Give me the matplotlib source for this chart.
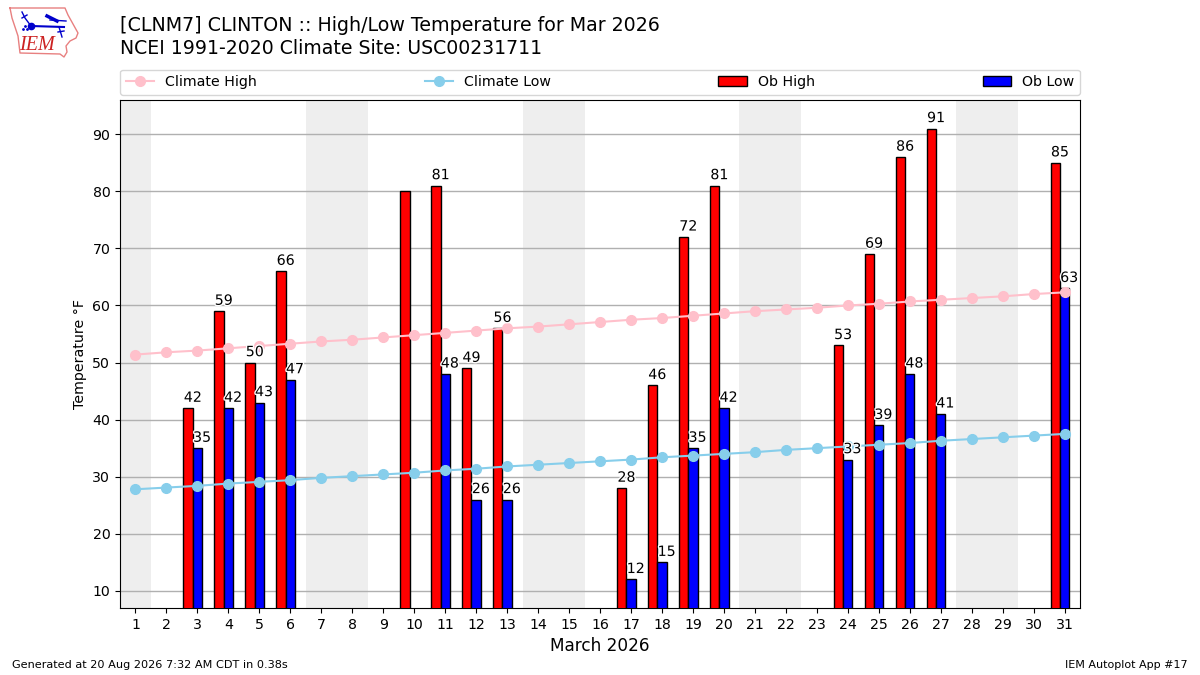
import numpy as np
import matplotlib
matplotlib.use('Agg')
import matplotlib.pyplot as plt
import matplotlib.patheffects as pe

days = list(range(1, 32))
# missing obs are nan
ob_high = [np.nan, np.nan, 42, 59, 50, 66, np.nan, np.nan, np.nan, 80, 81, 49, 56, np.nan, np.nan, np.nan,
           28, 46, 72, 81, np.nan, np.nan, np.nan, 53, 69, 86, 91, np.nan, np.nan, np.nan, 85]
ob_low = [np.nan, np.nan, 35, 42, 43, 47, np.nan, np.nan, np.nan, np.nan, 48, 26, 26, np.nan, np.nan, np.nan,
          12, 15, 35, 42, np.nan, np.nan, np.nan, 33, 39, 48, 41, np.nan, np.nan, np.nan, 63]
clim_high = [51.4, 51.8, 52.1, 52.5, 52.9, 53.3, 53.7, 54.0, 54.4, 54.8, 55.2, 55.6, 56.0, 56.3, 56.7, 57.1,
             57.5, 57.8, 58.2, 58.6, 59.0, 59.3, 59.6, 60.0, 60.3, 60.7, 61.0, 61.3, 61.6, 62.0, 62.3]
clim_low = [27.8, 28.1, 28.4, 28.8, 29.1, 29.4, 29.8, 30.1, 30.4, 30.7, 31.1, 31.4, 31.8, 32.1, 32.4, 32.7,
            33.0, 33.4, 33.7, 34.0, 34.3, 34.7, 35.0, 35.3, 35.6, 35.9, 36.3, 36.6, 36.9, 37.2, 37.5]
weekends = [(0.5, 1.5), (6.5, 8.5), (13.5, 15.5), (20.5, 22.5), (27.5, 29.5)]

W, H = 1200, 675
fig = plt.figure(figsize=(12, 6.75), dpi=100)
ax = fig.add_axes([120 / W, 1 - 608 / H, 960 / W, 508 / H])

for a, b in weekends:
    ax.axvspan(a, b, color='#eeeeee', lw=0, zorder=0)

x = np.array(days)
ax.bar(x - 0.3, ob_high, width=0.3, color='red', edgecolor='black', lw=1, label='Ob High', zorder=3)
ax.bar(x, ob_low, width=0.3, color='blue', edgecolor='black', lw=1, label='Ob Low', zorder=3)
ax.plot(x, clim_high, color='pink', marker='o', ms=7, lw=1.5, label='Climate High', zorder=4)
ax.plot(x, clim_low, color='skyblue', marker='o', ms=7, lw=1.5, label='Climate Low', zorder=4)

# labels only on days with both obs
for d, hi, lo in zip(days, ob_high, ob_low):
    if np.isnan(hi) or np.isnan(lo):
        continue
    for xx, v in ((d - 0.15, hi), (d + 0.15, lo)):
        ax.text(xx, v + 0.6, str(v), ha='center', va='bottom', fontsize=10.2, zorder=5,
                path_effects=[pe.withStroke(linewidth=2, foreground='white')])

ax.set_xlim(0.5, 31.5)
ax.set_ylim(7, 96)
ax.set_xticks(days)
ax.set_yticks(range(10, 100, 10))
ax.tick_params(labelsize=10.2)
ax.grid(axis='y', color='#b0b0b0', lw=1)
ax.set_axisbelow(True)
ax.set_ylabel('Temperature °F', fontsize=10.2)
ax.set_xlabel('March 2026', fontsize=12.2)

handles, labels = ax.get_legend_handles_labels()
order = [labels.index(n) for n in ['Climate High', 'Climate Low', 'Ob High', 'Ob Low']]
ax.legend([handles[i] for i in order], [labels[i] for i in order], ncol=4, mode='expand',
          loc='lower left', bbox_to_anchor=(0, 1.01, 1, 0.05), borderaxespad=0, fontsize=10.2)

fig.text(120 / W, 1 - 25.5 / H, '[CLNM7] CLINTON :: High/Low Temperature for Mar 2026', fontsize=13.7, va='center')
fig.text(120 / W, 1 - 48 / H, 'NCEI 1991-2020 Climate Site: USC00231711', fontsize=13.6, va='center')
fig.text(12 / W, 1 - 665 / H, 'Generated at 20 Aug 2026 7:32 AM CDT in 0.38s', fontsize=8.15, va='center')
fig.text(1188 / W, 1 - 665 / H, 'IEM Autoplot App #17', fontsize=8, va='center', ha='right')

# logo, in pixel coords
logo = fig.add_axes([0, 1 - 60 / H, 90 / W, 60 / H])
logo.set_xlim(0, 90)
logo.set_ylim(60, 0)
logo.axis('off')
outline_x = [10, 65, 68, 73, 78, 76, 70, 66, 67, 64, 60, 20, 18, 12, 10]
outline_y = [8, 8, 15, 24, 33, 38, 41, 46, 52, 57, 54, 53, 36, 18, 8]
logo.plot(outline_x, outline_y, color='#e88080', lw=1)
logo.plot([31, 64], [26, 27], color='#0000cc', lw=1.5)
logo.plot([22, 25, 31], [12, 18, 26], color='#0000cc', lw=1)
logo.plot([22, 27], [18, 15], color='#0000cc', lw=1)
logo.plot([47, 57], [16, 21], color='#0000cc', lw=2.5)
logo.plot([50, 66], [20, 21], color='#0000cc', lw=1)
logo.plot([59, 62], [27, 37], color='#0000cc', lw=1)
logo.plot([58, 64], [32, 31], color='#0000cc', lw=1)
logo.plot([31], [26], marker='o', ms=4.5, color='#0000cc')
logo.plot([23, 25, 27], [29, 26, 29], ls='none', marker='.', ms=2, color='#0000cc')
logo.text(37, 45, 'IEM', color='#cc2222', fontsize=14.5, family='Liberation Serif', style='italic',
          va='center', ha='center')

fig.savefig('out.png', dpi=100)
